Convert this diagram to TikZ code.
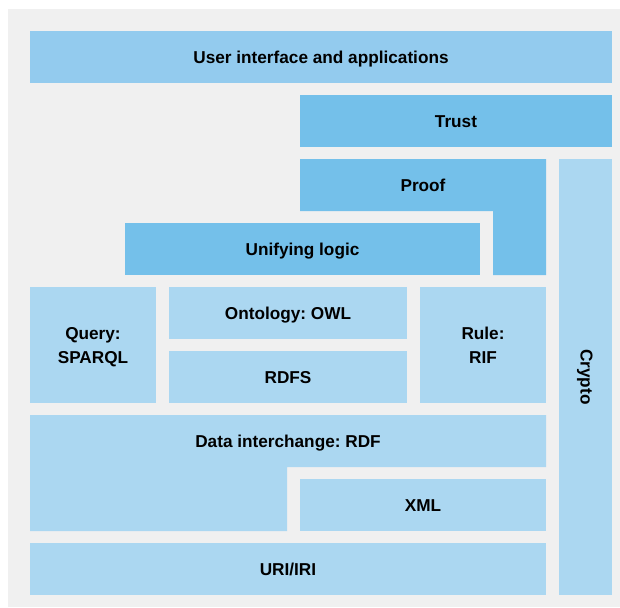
\documentclass[tikz,border=0pt]{standalone}
\usepackage{fontspec}
\setmainfont{Liberation Sans}
\frenchspacing
\definecolor{bgGray}{HTML}{F0F0F0}
\definecolor{uiBlue}{HTML}{93CBEE}
\definecolor{darkBlue}{HTML}{74C0EA}
\definecolor{lightBlue}{HTML}{ABD7F1}
\tikzset{
  lbl/.style={font=\bfseries\fontsize{17.2}{24}\selectfont, align=center, text=black, inner sep=0pt, text depth=0pt, anchor=south},
}
\begin{document}
\begin{tikzpicture}[x=1pt,y=-1pt]
\useasboundingbox (0,0) rectangle (620,607);
\fill[white] (0,0) rectangle (620,607);
\fill[bgGray] (8,9) rectangle (620,607);
% User interface
\fill[uiBlue] (30,31) rectangle (612,83);
\node[lbl] (ui) at (321,63.3) {User interface and applications};
% Trust
\fill[darkBlue] (300,95) rectangle (612,147);
\node[lbl] (trust) at (456,127.3) {Trust};
% Proof (L-shape)
\fill[darkBlue] (300,159) -- (546,159) -- (546,275) -- (493,275) -- (493,211) -- (300,211) -- cycle;
\node[lbl] (proof) at (423,191.3) {Proof};
% Unifying logic
\fill[darkBlue] (125,223) rectangle (480,275);
\node[lbl] (logic) at (302.5,255.3) {Unifying logic};
% Crypto
\fill[lightBlue] (559,159) rectangle (612,595);
\node[lbl, rotate=-90] (crypto) at (580.3,377) {Crypto};
% Query
\fill[lightBlue] (30,287) rectangle (156,403);
\node[lbl] (query) at (93,363.3) {Query:\\SPARQL};
% Ontology
\fill[lightBlue] (169,287) rectangle (407,339);
\node[lbl] (owl) at (288,319.3) {Ontology: OWL};
% RDFS
\fill[lightBlue] (169,351) rectangle (407,403);
\node[lbl] (rdfs) at (288,383.3) {RDFS};
% Rule
\fill[lightBlue] (420,287) rectangle (546,403);
\node[lbl] (rule) at (483,363.3) {Rule:\\RIF};
% Data interchange (L-shape)
\fill[lightBlue] (30,415) -- (546,415) -- (546,467) -- (287,467) -- (287,531) -- (30,531) -- cycle;
\node[lbl] (rdf) at (288,447.3) {Data interchange: RDF};
% XML
\fill[lightBlue] (300,479) rectangle (546,531);
\node[lbl] (xml) at (423,511.3) {XML};
% URI/IRI
\fill[lightBlue] (30,543) rectangle (546,595);
\node[lbl] (uri) at (288,575.3) {URI/IRI};
\end{tikzpicture}
\end{document}
